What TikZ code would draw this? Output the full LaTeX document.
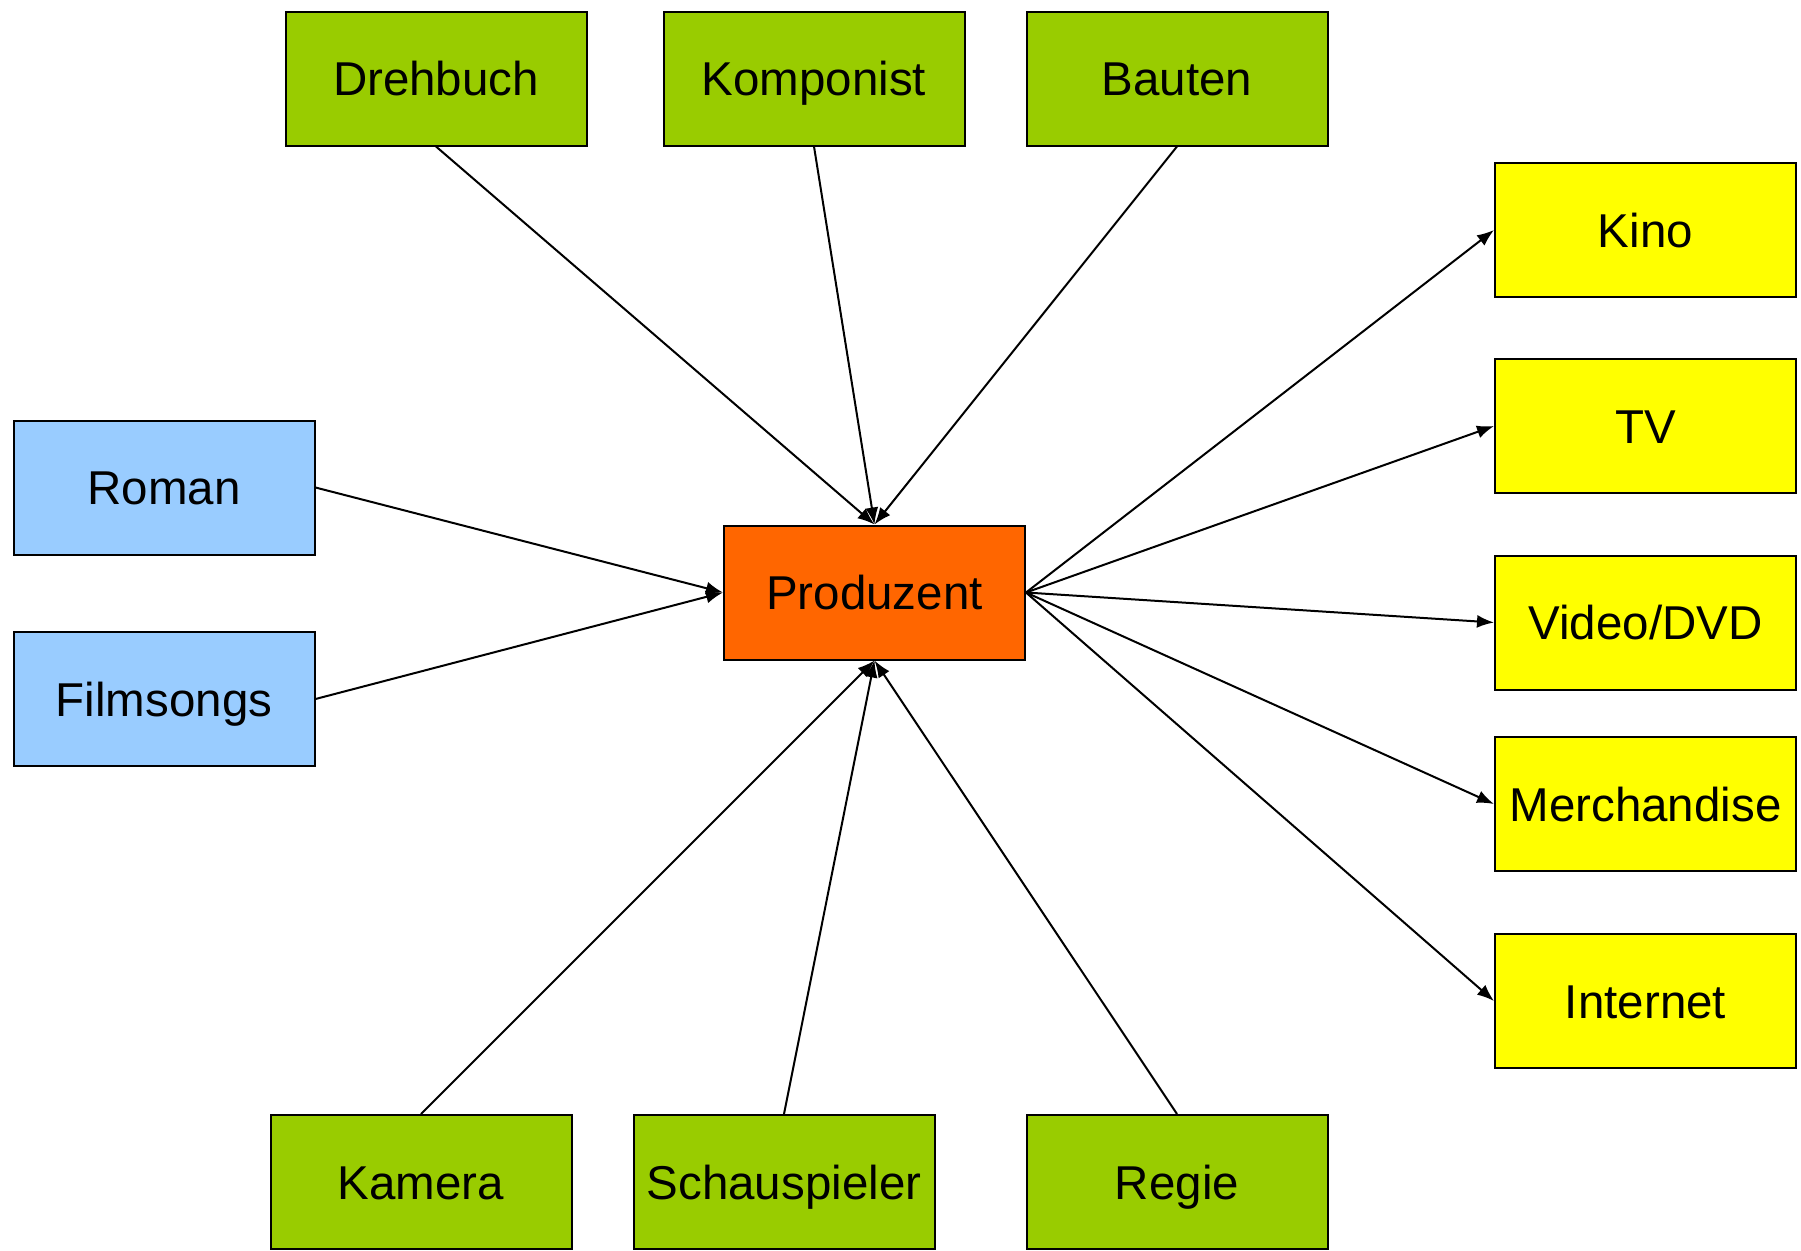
\documentclass[tikz,border=0pt]{standalone}
\usepackage{fontspec}
\setmainfont{Liberation Sans}
\usetikzlibrary{arrows.meta}
\definecolor{cgreen}{HTML}{99CC00}
\definecolor{cyellow}{HTML}{FFFF00}
\definecolor{cblue}{HTML}{99CCFF}
\definecolor{corange}{HTML}{FF6600}
\begin{document}
\begin{tikzpicture}[x=1pt,y=-1pt,
  box/.style={draw=black, line width=2pt, minimum width=301pt, minimum height=134pt, inner sep=0pt, text height=34pt, text depth=0pt, font=\fontsize{47.5}{56}\selectfont},
  gbox/.style={box, fill=cgreen},
  ybox/.style={box, fill=cyellow},
  bbox/.style={box, fill=cblue},
  obox/.style={box, fill=corange},
  conn/.style={line width=2pt, -{Latex[length=17pt,width=13pt]}}]
\useasboundingbox (0,0) rectangle (1801,1250);
\node[gbox] (dreh) at (436,78.5) {Drehbuch};
\node[gbox] (komp) at (814,78.5) {Komponist};
\node[gbox] (baut) at (1177,78.5) {Bauten};
\node[ybox] (kino) at (1645.5,230) {Kino};
\node[ybox] (tv) at (1645.5,426) {TV};
\node[ybox] (video) at (1645.5,622.5) {Video/DVD};
\node[ybox] (merch) at (1645.5,804) {Merchandise};
\node[ybox] (inet) at (1645.5,1001) {Internet};
\node[bbox] (roman) at (164,487.5) {Roman};
\node[bbox] (songs) at (164,699) {Filmsongs};
\node[obox] (prod) at (874.5,592.5) {Produzent};
\node[gbox] (kam) at (421,1182) {Kamera};
\node[gbox] (schau) at (784,1182) {Schauspieler};
\node[gbox] (regie) at (1177,1182) {Regie};
\draw[conn] (dreh.south) -- (prod.north);
\draw[conn] (komp.south) -- (prod.north);
\draw[conn] (baut.south) -- (prod.north);
\draw[conn] (roman.east) -- (prod.west);
\draw[conn] (songs.east) -- (prod.west);
\draw[conn] (kam.north) -- (prod.south);
\draw[conn] (schau.north) -- (prod.south);
\draw[conn] (regie.north) -- (prod.south);
\draw[conn] (prod.east) -- (kino.west);
\draw[conn] (prod.east) -- (tv.west);
\draw[conn] (prod.east) -- (video.west);
\draw[conn] (prod.east) -- (merch.west);
\draw[conn] (prod.east) -- (inet.west);
\end{tikzpicture}
\end{document}
